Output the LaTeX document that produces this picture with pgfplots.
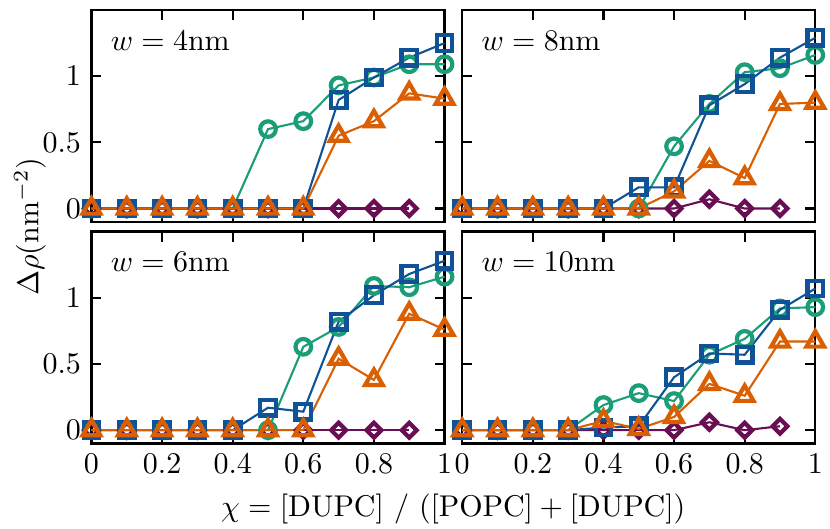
\documentclass[border=0pt]{standalone}
\usepackage{pgfplots}
\pgfplotsset{compat=1.18}
\usepackage{pgfplotstable}
\usepgfplotslibrary{groupplots}
\usetikzlibrary{calc}

\definecolor{cgreen}{RGB}{27,158,119}
\definecolor{cblue}{RGB}{16,82,152}
\definecolor{corange}{RGB}{217,95,2}
\definecolor{cpurple}{RGB}{106,14,84}

% columns: x, green circles, blue squares, orange triangles, purple diamonds
\pgfplotstableread{
x   g    b    o    p
0   0    0    0    0
0.1 0    0    0    0
0.2 0    0    0    0
0.3 0    0    0    0
0.4 0    0    0    0
0.5 0.60 0    0    0
0.6 0.66 0    0    0
0.7 0.93 0.82 0.55 0
0.8 0.99 0.99 0.66 0
0.9 1.09 1.14 0.87 0
1.0 1.09 1.25 0.83 nan
}\wfour
\pgfplotstableread{
x   g    b    o    p
0   0    0    0    0
0.1 0    0    0    0
0.2 0    0    0    0
0.3 0    0    0    0
0.4 0    0    0    0
0.5 0    0.16 0    0
0.6 0.47 0.16 0.13 0
0.7 0.79 0.78 0.36 0.07
0.8 1.03 0.94 0.23 0
0.9 1.06 1.14 0.79 0
1.0 1.16 1.29 0.80 nan
}\weight
\pgfplotstableread{
x   g    b    o    p
0   0    0    0    0
0.1 0    0    0    0
0.2 0    0    0    0
0.3 0    0    0    0
0.4 0    0    0    0
0.5 0    0.17 0    0
0.6 0.63 0.14 0    0
0.7 0.78 0.82 0.54 0
0.8 1.09 1.02 0.38 0
0.9 1.08 1.18 0.88 0
1.0 1.16 1.28 0.76 nan
}\wsix
\pgfplotstableread{
x   g    b    o    p
0   0    0    0    0
0.1 0    0    0    0
0.2 0    0    0    0
0.3 0    0    0    0
0.4 0.19 0.02 0.07 0
0.5 0.28 0.03 0.01 0
0.6 0.22 0.40 0.10 0
0.7 0.57 0.58 0.35 0.06
0.8 0.69 0.57 0.26 0
0.9 0.92 0.91 0.67 0.03
1.0 0.93 1.07 0.67 nan
}\wten

\pgfplotsset{
  sp/.style={line width=0.7pt, mark options={solid, line width=1.4pt}},
  spurple/.style={line width=0.7pt, cpurple, mark=square, mark size=1.75pt,
    mark options={solid, line width=1.4pt, rotate=45}},
  sgreen/.style={sp, cgreen, mark=o, mark size=2.6pt},
  sblue/.style={sp, cblue, mark=square, mark size=2.6pt},
  sorange/.style={sp, corange, mark=triangle, mark size=3.4pt},
}

\newcommand{\panel}[1]{%
  \addplot[spurple] table[x=x, y=p] {#1};
  \addplot[sgreen] table[x=x, y=g] {#1};
  \addplot[sblue] table[x=x, y=b] {#1};
  \addplot[sorange] table[x=x, y=o] {#1};
}

\begin{document}
\begin{tikzpicture}
\begin{groupplot}[
  group style={group size=2 by 2, horizontal sep=5.9pt, vertical sep=3.3pt,
    x descriptions at=edge bottom, y descriptions at=edge left},
  scale only axis, width=117.7pt, height=70.6pt,
  xmin=0, xmax=1, ymin=-0.1, ymax=1.5,
  xtick={0,0.2,0.4,0.6,0.8,1}, ytick={0,0.5,1},
  tick align=inside, major tick length=3.3pt,
  axis line style={line width=0.8pt},
  every tick/.style={black, line width=0.7pt},
  clip=false,
]
\nextgroupplot
\panel{\wfour}
\node[anchor=base west, inner sep=0pt] at (rel axis cs:0.053,0.81) {$w = 4$nm};
\nextgroupplot
\panel{\weight}
\node[anchor=base west, inner sep=0pt] at (rel axis cs:0.053,0.81) {$w = 8$nm};
\nextgroupplot
\panel{\wsix}
\node[anchor=base west, inner sep=0pt] at (rel axis cs:0.053,0.81) {$w = 6$nm};
\nextgroupplot
\panel{\wten}
\node[anchor=base west, inner sep=0pt] at (rel axis cs:0.053,0.81) {$w = 10$nm};
\end{groupplot}
\node[rotate=90] at ($(group c1r1.south west)!0.5!(group c1r2.north west)+(-20.5pt,0)$)
  {$\Delta\rho(\mathrm{nm}^{-2})$};
\node at ($(group c1r2.south east)!0.5!(group c2r2.south west)+(0,-21.7pt)$)
  {$\chi = [\mathrm{DUPC}]\ /\ ([\mathrm{POPC}] + [\mathrm{DUPC}])$};
\pgfresetboundingbox
\path (group c1r1.north west) ++(-30.5pt,3.33pt) rectangle ++(276.7pt,-176.3pt);
\end{tikzpicture}
\end{document}
